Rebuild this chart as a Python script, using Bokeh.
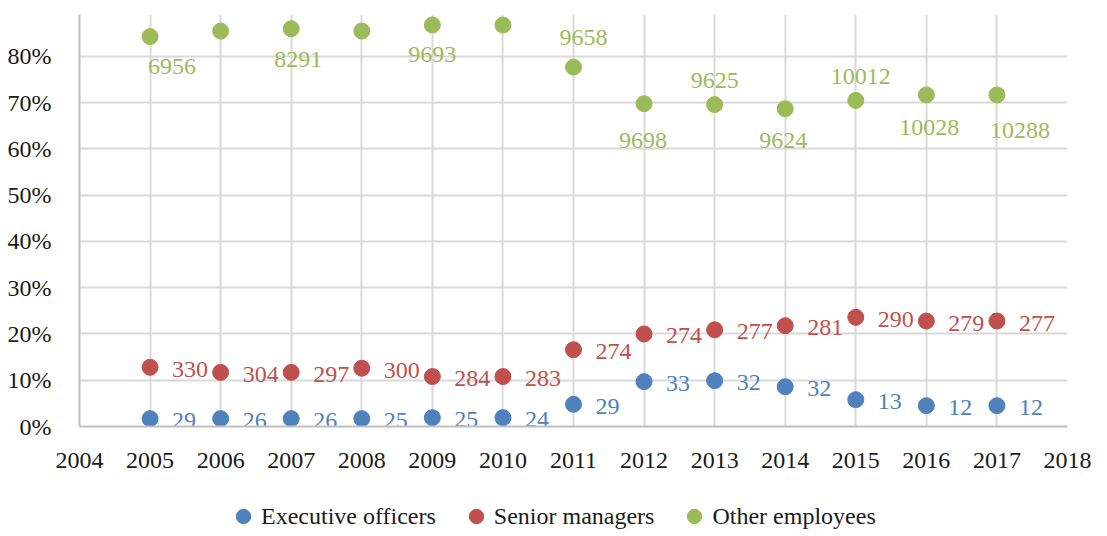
from bokeh.plotting import figure
from bokeh.layouts import column
from bokeh.models import (ColumnDataSource, FixedTicker, Legend, LegendItem,
                          PrintfTickFormatter, Range1d)
from bokeh.core.properties import value
from bokeh.embed import file_html
from bokeh.resources import INLINE

# ---------------- data ----------------
years = [2005, 2006, 2007, 2008, 2009, 2010, 2011, 2012, 2013, 2014, 2015, 2016, 2017]
exec_share = [1.7, 1.7, 1.7, 1.7, 1.9, 1.9, 4.8, 9.7, 9.9, 8.6, 5.8, 4.5, 4.5]
exec_counts = ["29", "26", "26", "25", "25", "24", "29", "33", "32", "32", "13", "12", "12"]
senior_share = [12.8, 11.7, 11.7, 12.6, 10.8, 10.8, 16.6, 20.0, 20.9, 21.8, 23.6, 22.8, 22.8]
senior_counts = ["330", "304", "297", "300", "284", "283", "274", "274", "277", "281", "290", "279", "277"]
other_share = [84.3, 85.5, 86.0, 85.5, 86.8, 86.8, 77.7, 69.8, 69.6, 68.7, 70.5, 71.7, 71.7]
other_counts = ["6956", "", "8291", "", "9693", "", "9658", "9698", "9625", "9624", "10012", "10028", "10288"]
series_names = ["Executive officers", "Senior managers", "Other employees"]
x_ticks = [2004, 2005, 2006, 2007, 2008, 2009, 2010, 2011, 2012, 2013, 2014, 2015, 2016, 2017, 2018]
y_ticks = [0, 10, 20, 30, 40, 50, 60, 70, 80, 90]

# label placement (pixels) for the "Other employees" labels
other_dx = [22, 0, 7, 0, 0, 0, 10, -1, 0, -2, 5, 3, 23]
other_dy = [30, 0, 31, 0, 29, 0, -30, 37, -24, 32, -24, 33, 36]

BLUE = "#4F81BD"
RED = "#C0504D"
GREEN = "#9BBB59"
COLORS = [BLUE, RED, GREEN]
FONT = "Liberation Serif"
GRID = "#D9D9D9"
TXT = "#1a1a1a"

p = figure(width=1107, height=496, output_backend="svg", toolbar_location=None,
           x_range=Range1d(2004, 2018), y_range=Range1d(0, 89.08),
           min_border_left=79, min_border_right=40, min_border_top=14,
           min_border_bottom=70)
p.outline_line_color = None
p.background_fill_color = "white"

# axes
p.xaxis.ticker = FixedTicker(ticks=x_ticks)
p.yaxis.ticker = FixedTicker(ticks=y_ticks)
p.yaxis.formatter = PrintfTickFormatter(format="%d%%")
for ax in (p.xaxis, p.yaxis):
    ax.axis_line_color = "#BFBFBF"
    ax.axis_line_width = 2
    ax.major_tick_line_color = None
    ax.minor_tick_line_color = None
    ax.major_label_text_font = FONT
    ax.major_label_text_font_size = "24px"
    ax.major_label_text_color = TXT
p.xaxis.major_label_standoff = 20
p.yaxis.major_label_standoff = 22

p.xgrid.ticker = FixedTicker(ticks=x_ticks)
p.ygrid.ticker = FixedTicker(ticks=y_ticks)
for g in (p.xgrid, p.ygrid):
    g.grid_line_color = GRID
    g.grid_line_width = 2

src = ColumnDataSource(dict(
    year=years, exec_share=exec_share, exec_counts=exec_counts,
    senior_share=senior_share, senior_counts=senior_counts,
    other_share=other_share, other_counts=other_counts,
    other_dx=other_dx, other_dy=other_dy,
))

p.scatter("year", "exec_share", source=src, size=16, color=BLUE)
p.scatter("year", "senior_share", source=src, size=16, color=RED)
p.scatter("year", "other_share", source=src, size=16, color=GREEN)

p.text("year", "exec_share", text="exec_counts", source=src, x_offset=22, y_offset=2,
       text_align="left", text_baseline="middle", text_color=BLUE,
       text_font=value(FONT), text_font_size="24px")
p.text("year", "senior_share", text="senior_counts", source=src, x_offset=22, y_offset=2,
       text_align="left", text_baseline="middle", text_color=RED,
       text_font=value(FONT), text_font_size="24px")
p.text("year", "other_share", text="other_counts", source=src, x_offset="other_dx",
       y_offset="other_dy", text_align="center", text_baseline="middle",
       text_color=GREEN, text_font=value(FONT), text_font_size="24px")

# ---------------- legend strip ----------------
lg = figure(width=1107, height=40, output_backend="svg", toolbar_location=None,
            x_range=Range1d(0, 1), y_range=Range1d(0, 1),
            x_axis_location=None, y_axis_location=None,
            min_border_left=79, min_border_right=40, min_border_top=0,
            min_border_bottom=0)
lg.outline_line_color = None
lg.xgrid.visible = False
lg.ygrid.visible = False
items = []
for name, col in zip(series_names, COLORS):
    # hidden placeholder point (outside the visible range) so the legend glyph is drawn
    r = lg.scatter(x=[-5], y=[-5], size=16, color=col)
    items.append(LegendItem(label=name, renderers=[r]))
legend = Legend(items=items, location=(146, 0), orientation="horizontal",
                glyph_width=36, glyph_height=40, label_standoff=0, spacing=22,
                padding=0, margin=0, border_line_color=None,
                background_fill_alpha=0, label_text_font=FONT,
                label_text_font_size="24px", label_text_color=TXT)
lg.add_layout(legend, "center")

layout = column(p, lg, spacing=0)
open("out.html", "w").write(file_html(layout, INLINE))
